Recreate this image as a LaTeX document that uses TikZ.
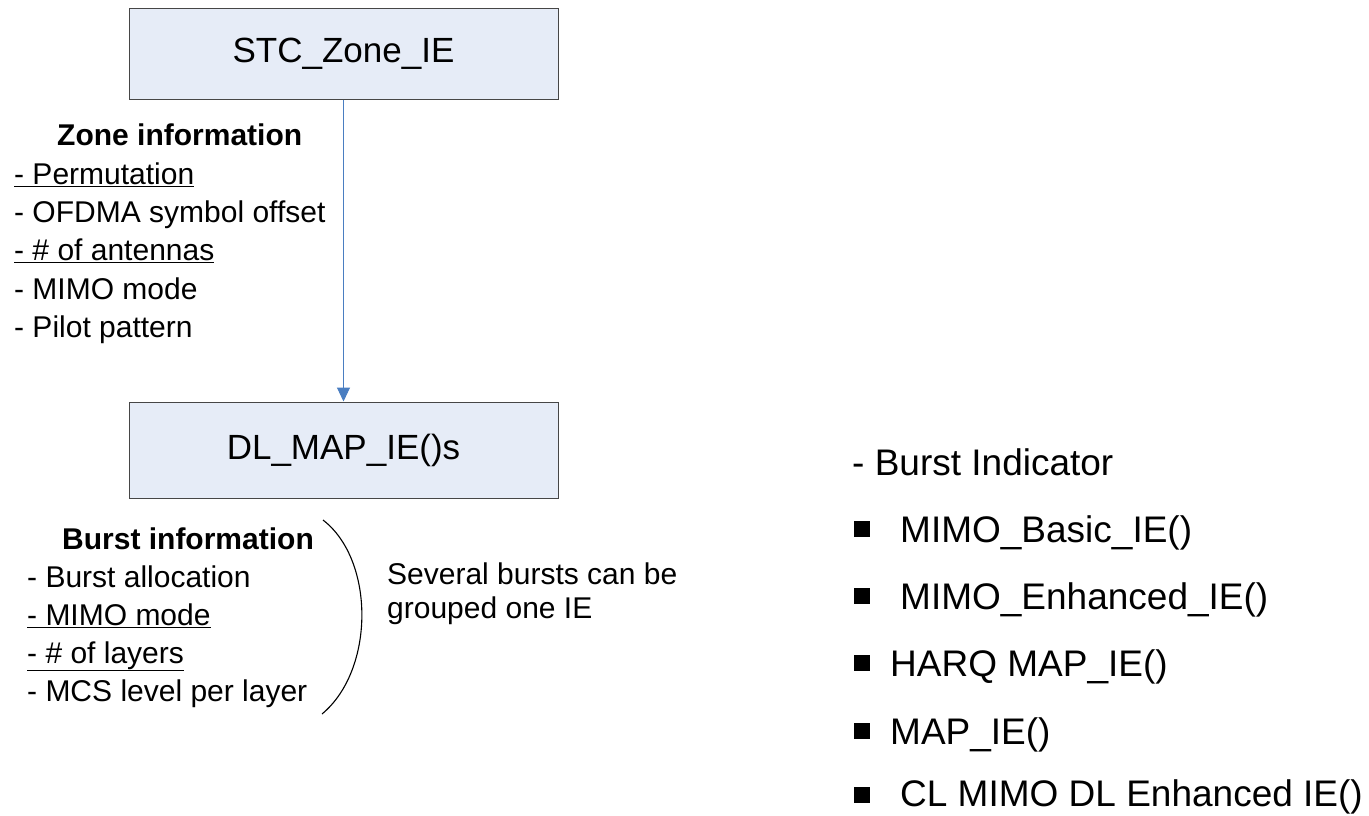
\documentclass[tikz,border=0pt]{standalone}
\usepackage{fontspec}
\setmainfont{Liberation Sans}
\usetikzlibrary{arrows.meta}
\definecolor{boxfill}{RGB}{230,236,247}
\definecolor{boxline}{RGB}{70,70,70}
\definecolor{arrowblue}{RGB}{74,126,193}
\tikzset{
  iebox/.style={draw=boxline, line width=1pt, fill=boxfill, minimum width=429pt, inner sep=0pt,
    font=\fontsize{35}{42}\selectfont},
  txt/.style={anchor=base west, inner sep=0pt, font=\fontsize{30}{36}\selectfont},
  ttl/.style={anchor=base west, inner sep=0pt, font=\fontsize{30}{36}\selectfont\bfseries},
  big/.style={anchor=base west, inner sep=0pt, font=\fontsize{37}{44}\selectfont},
  bul/.style={fill=black, minimum size=16pt, inner sep=0pt}
}
\begin{document}
\begin{tikzpicture}[x=1pt,y=-1pt]
\useasboundingbox (0,0) rectangle (1369,815);
\node[iebox, minimum height=91pt] (stc) at (343.5,53.5) {STC\_Zone\_IE};
\node[iebox, minimum height=96pt] (dl) at (343.5,450) {DL\_MAP\_IE()s};
\draw[arrowblue, line width=1pt, -{Triangle[length=14pt,width=13pt]}] (stc.south) -- (dl.north);

\node[ttl] (zt) at (57,145) {Zone information};
\node[txt] (z1) at (14,184) {\underline{- Permutation}};
\node[txt] (z2) at (14,222) {- OFDMA symbol offset};
\node[txt] (z3) at (14,260) {\underline{- \# of antennas}};
\node[txt] (z4) at (14,299) {- MIMO mode};
\node[txt] (z5) at (14,337) {- Pilot pattern};

\node[ttl] (bt) at (62,549) {Burst information};
\node[txt] (b1) at (27,587) {- Burst allocation};
\node[txt] (b2) at (27,625) {\underline{- MIMO mode}};
\node[txt] (b3) at (27,663) {\underline{- \# of layers}};
\node[txt] (b4) at (27,701) {- MCS level per layer};

\coordinate (pt) at (323,520);
\coordinate (pb) at (322,714);
\draw[black, line width=1.1pt] (pt) .. controls (375,560) and (375,670) .. (pb);

\node[txt] (s1) at (387,584) {Several bursts can be};
\node[txt] (s2) at (387,618) {grouped one IE};

\node[big] (r0) at (852,475) {- Burst Indicator};
\node[bul] (q1) at (862,529) {};
\node[big] (r1) at (900,542) {MIMO\_Basic\_IE()};
\node[bul] (q2) at (862,596) {};
\node[big] (r2) at (900,609) {MIMO\_Enhanced\_IE()};
\node[bul] (q3) at (862,663) {};
\node[big] (r3) at (890,676) {HARQ MAP\_IE()};
\node[bul] (q4) at (862,731) {};
\node[big] (r4) at (890,744) {MAP\_IE()};
\node[bul] (q5) at (862,795) {};
\node[big] (r5) at (900,806) {CL MIMO DL Enhanced IE()};
\end{tikzpicture}
\end{document}
